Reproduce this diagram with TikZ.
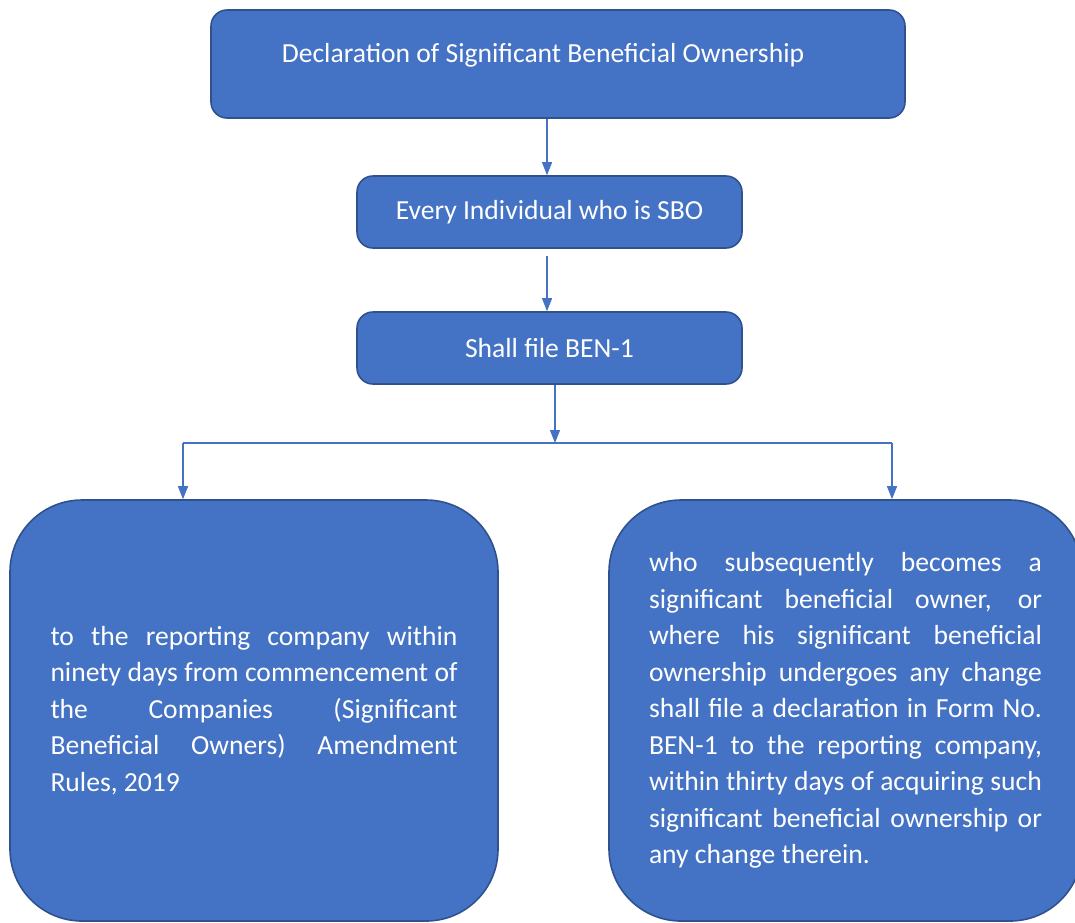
\documentclass[tikz,border=0pt]{standalone}
\usepackage{fontspec}
\setmainfont{Carlito}
\usepackage{tikz}
\usetikzlibrary{arrows.meta}
\usetikzlibrary{positioning}
\definecolor{boxblue}{HTML}{4472C4}
\definecolor{boxedge}{HTML}{2F528F}
\tikzset{
    stepbox/.style={draw=boxedge, fill=boxblue, line width=1.6pt,
        rounded corners=16pt, text=white, inner sep=0pt,
        font=\fontsize{27.6}{33}\selectfont},
    bigbox/.style={draw=boxedge, fill=boxblue, line width=1.6pt,
        rounded corners=72pt, text=white, inner sep=0pt, align=justify,
        font=\fontsize{27.6}{36.5}\selectfont,
        execute at begin node={\hyphenpenalty=10000\relax\tolerance=10000\relax}},
}
\tikzstyle{line} = [draw=boxblue, line width=1.2pt, -{Triangle[width=10pt,length=13pt]}]

\begin{document}
\begin{tikzpicture}[x=1pt, y=-1pt]
	\useasboundingbox (0,0) rectangle (1075,922);
	% top of the chart
	\node[stepbox, minimum width=694pt, minimum height=108pt,
		text height=18pt, text depth=22pt] (decl) at (558,64)
		{Declaration of Significant Beneficial Ownership\hspace*{30pt}};
	\node[stepbox, minimum width=385pt, minimum height=72pt] (sbo) at (549.5,212)
		{Every Individual who is SBO};
	\node[stepbox, minimum width=385pt, minimum height=72pt] (file) at (549.5,348)
		{Shall file BEN-1};
	% the two cases
	\node[bigbox, minimum width=488pt, minimum height=421pt, text width=407pt] (existing) at (254,710.5)
		{to the reporting company within\linebreak
		ninety days from commencement of\linebreak
		the Companies (Significant\linebreak
		Beneficial Owners) Amendment\linebreak
		Rules, 2019};
	\node[bigbox, minimum width=473pt, minimum height=421pt, text width=393pt] (later) at (845.5,710.5)
		{who subsequently becomes a\linebreak
		significant beneficial owner, or\linebreak
		where his significant beneficial\linebreak
		ownership undergoes any change\linebreak
		shall file a declaration in Form No.\linebreak
		BEN-1 to the reporting company,\linebreak
		within thirty days of acquiring such\linebreak
		significant beneficial ownership or\linebreak
		any change therein.};
	\coordinate (split) at (555,443);
	\coordinate (splitl) at (183,443);
	\coordinate (splitr) at (892,443);
	\draw[line] ([xshift=-2.5pt]sbo.north |- decl.south) -- ([xshift=-2.5pt]sbo.north);
	\draw[line, shorten <=7pt] ([xshift=-2.5pt]sbo.south) -- ([xshift=-2.5pt]file.north);
	\draw[line] (file.south -| split) -- (split);
	\draw[draw=boxblue, line width=1.2pt] (splitl) -- (splitr);
	\draw[line] (splitl) -- (splitl |- existing.north);
	\draw[line] (splitr) -- (splitr |- later.north);
\end{tikzpicture}
\end{document}
